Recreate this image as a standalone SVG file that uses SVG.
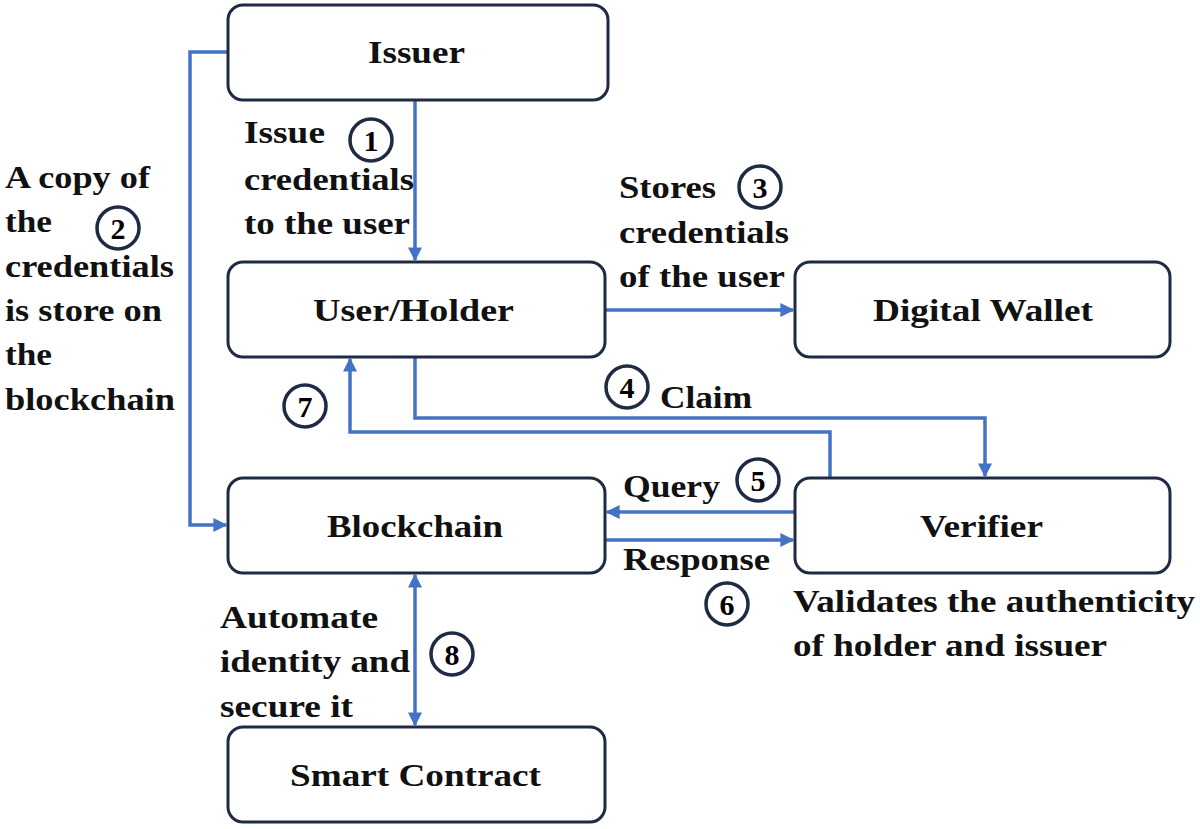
<svg xmlns="http://www.w3.org/2000/svg" width="1200" height="829" viewBox="0 0 1200 829">
<style>
.n{fill:#fff;stroke:#1f2a44;stroke-width:3}
.t{font-family:"Liberation Serif",serif;font-weight:bold;font-size:31px;fill:#111}
.c{fill:#fff;stroke:#1f2a44;stroke-width:3.5}
.l{fill:none;stroke:#4472c4;stroke-width:3.5}
</style>
<defs>
<marker id="a" viewBox="0 0 10 10" refX="9" refY="5" markerWidth="4" markerHeight="4" orient="auto-start-reverse"><path d="M0,0L10,5L0,10z" fill="#4472c4"/></marker>
</defs>
<rect width="1200" height="829" fill="#fff"/>
<g id="connectors">
<path class="l" d="M228,52H190V525H226" marker-end="url(#a)"/>
<path class="l" d="M415,100V260" marker-end="url(#a)"/>
<path class="l" d="M605,310H793" marker-end="url(#a)"/>
<path class="l" d="M415,357V418H985V476" marker-end="url(#a)"/>
<path class="l" d="M830,478V432H350V359" marker-end="url(#a)"/>
<path class="l" d="M795,512H607" marker-end="url(#a)"/>
<path class="l" d="M605,540H793" marker-end="url(#a)"/>
<path class="l" d="M415,575V725" marker-start="url(#a)" marker-end="url(#a)"/>
</g>
<g id="issuer"><rect class="n" x="228" y="5" width="380" height="95" rx="15"/><text class="t" x="368" y="63" textLength="97" lengthAdjust="spacingAndGlyphs">Issuer</text></g>
<g id="user"><rect class="n" x="228" y="262" width="377" height="95" rx="15"/><text class="t" x="313" y="321" textLength="201" lengthAdjust="spacingAndGlyphs">User/Holder</text></g>
<g id="wallet"><rect class="n" x="795" y="262" width="375" height="95" rx="15"/><text class="t" x="873" y="321" textLength="220" lengthAdjust="spacingAndGlyphs">Digital Wallet</text></g>
<g id="blockchain"><rect class="n" x="228" y="478" width="377" height="95" rx="15"/><text class="t" x="327" y="537" textLength="176" lengthAdjust="spacingAndGlyphs">Blockchain</text></g>
<g id="verifier"><rect class="n" x="795" y="478" width="375" height="95" rx="15"/><text class="t" x="920" y="537" textLength="123" lengthAdjust="spacingAndGlyphs">Verifier</text></g>
<g id="smart"><rect class="n" x="228" y="727" width="377" height="95" rx="15"/><text class="t" x="290" y="786" textLength="251" lengthAdjust="spacingAndGlyphs">Smart Contract</text></g>
<g id="labels">
<text class="t" x="244" y="143" textLength="81" lengthAdjust="spacingAndGlyphs">Issue</text>
<text class="t" x="244" y="190" textLength="170" lengthAdjust="spacingAndGlyphs">credentials</text>
<text class="t" x="244" y="234" textLength="166" lengthAdjust="spacingAndGlyphs">to the user</text>
<text class="t" x="5" y="188" textLength="145" lengthAdjust="spacingAndGlyphs">A copy of</text>
<text class="t" x="5" y="232" textLength="47" lengthAdjust="spacingAndGlyphs">the</text>
<text class="t" x="5" y="277" textLength="169" lengthAdjust="spacingAndGlyphs">credentials</text>
<text class="t" x="5" y="321" textLength="157" lengthAdjust="spacingAndGlyphs">is store on</text>
<text class="t" x="5" y="365" textLength="47" lengthAdjust="spacingAndGlyphs">the</text>
<text class="t" x="5" y="410" textLength="170" lengthAdjust="spacingAndGlyphs">blockchain</text>
<text class="t" x="619" y="198" textLength="97" lengthAdjust="spacingAndGlyphs">Stores</text>
<text class="t" x="619" y="243" textLength="170" lengthAdjust="spacingAndGlyphs">credentials</text>
<text class="t" x="619" y="287" textLength="166" lengthAdjust="spacingAndGlyphs">of the user</text>
<text class="t" x="660" y="408" textLength="92" lengthAdjust="spacingAndGlyphs">Claim</text>
<text class="t" x="623" y="497" textLength="97" lengthAdjust="spacingAndGlyphs">Query</text>
<text class="t" x="623" y="570" textLength="147" lengthAdjust="spacingAndGlyphs">Response</text>
<text class="t" x="793" y="612" textLength="402" lengthAdjust="spacingAndGlyphs">Validates the authenticity</text>
<text class="t" x="793" y="656" textLength="314" lengthAdjust="spacingAndGlyphs">of holder and issuer</text>
<text class="t" x="220" y="628" textLength="158" lengthAdjust="spacingAndGlyphs">Automate</text>
<text class="t" x="220" y="672" textLength="190" lengthAdjust="spacingAndGlyphs">identity and</text>
<text class="t" x="220" y="717" textLength="133" lengthAdjust="spacingAndGlyphs">secure it</text>
</g>
<g id="badges" font-family="Liberation Serif,serif" font-weight="bold" font-size="30" text-anchor="middle">
<circle class="c" cx="371" cy="140" r="21"/><text x="371" y="151">1</text>
<circle class="c" cx="118" cy="228" r="21"/><text x="118" y="239">2</text>
<circle class="c" cx="760" cy="187" r="21"/><text x="760" y="198">3</text>
<circle class="c" cx="627" cy="387" r="21"/><text x="627" y="398">4</text>
<circle class="c" cx="758" cy="480" r="21"/><text x="758" y="491">5</text>
<circle class="c" cx="727" cy="604" r="21"/><text x="727" y="615">6</text>
<circle class="c" cx="305" cy="406" r="21"/><text x="305" y="417">7</text>
<circle class="c" cx="452" cy="654" r="21"/><text x="452" y="665">8</text>
</g>
</svg>
